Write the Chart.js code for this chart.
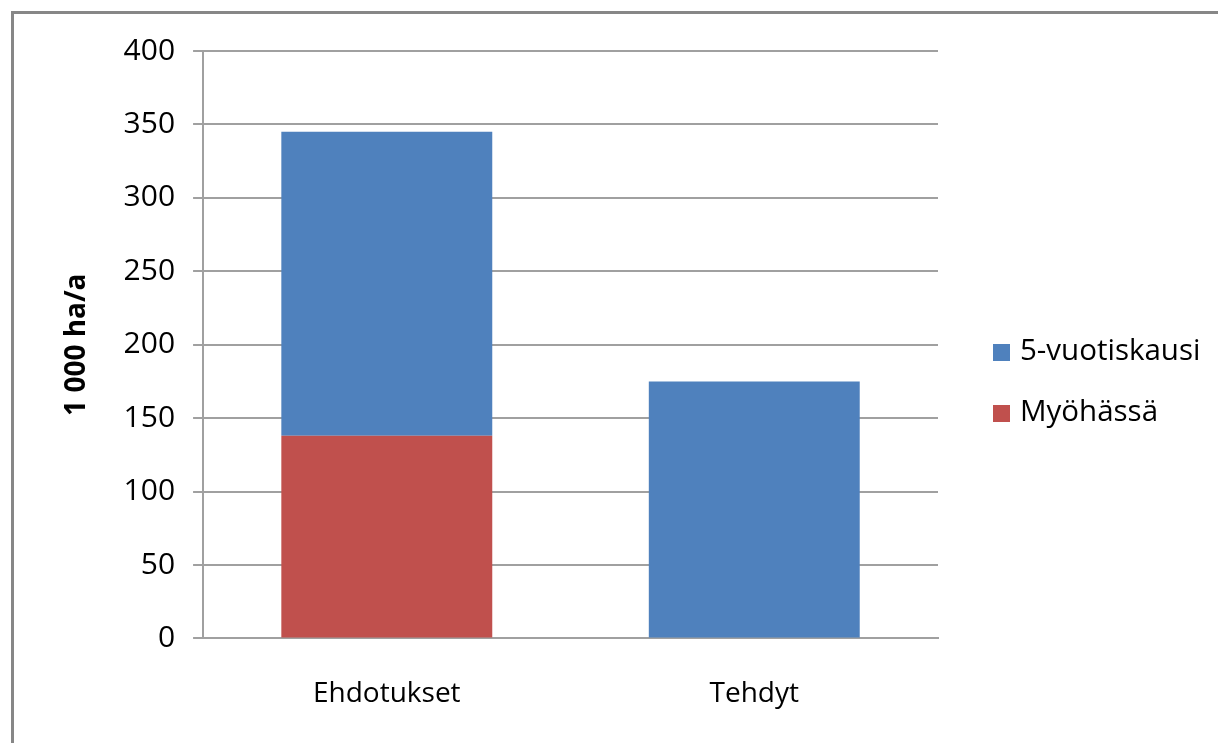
<!DOCTYPE html>
<html>
<head>
<meta charset="utf-8">
<script src="https://cdn.jsdelivr.net/npm/chart.js@4.4.1/dist/chart.umd.min.js"></script>
<style>
  body { margin: 0; background: #fff; overflow: hidden; }
  #wrap { position: relative; width: 1218px; height: 743px; overflow: hidden; }
  #frame { position: absolute; left: 11px; top: 11px; width: 1400px; height: 900px;
           border-top: 3px solid #878787; border-left: 3px solid #878787; box-sizing: border-box; }
  #myChart { position: absolute; left: 0; top: 0; }
  .legende { position: absolute; left: 993px; font-family: 'Open Sans', sans-serif; font-size: 29.5px; color: #000; }
  .legende div { position: absolute; white-space: nowrap; height: 34px; line-height: 34px; }
  .legende span { display: inline-block; width: 17px; height: 17px; margin-right: 10px; vertical-align: -1px; }
</style>
</head>
<body>
<div id="wrap">
  <div id="frame"></div>
  <canvas id="myChart" width="1218" height="742"></canvas>
  <div class="legende" id="legende"></div>
</div>
<script>
const categories = ['Ehdotukset', 'Tehdyt'];
const myohassa = [138, 0];
const viisiVuotis = [207, 175];
const tickLabels = [0, 50, 100, 150, 200, 250, 300, 350, 400];
const seriesNames = ['Myöhässä', '5-vuotiskausi'];
const colors = ['#C0504D', '#4F81BD'];

const ctx = document.getElementById('myChart');
const grille = '#a0a0a0';

const myChart = new Chart(ctx, {
  type: 'bar',
  data: {
    labels: categories,
    datasets: [{
      label: seriesNames[0],
      data: myohassa,
      backgroundColor: colors[0],
      borderWidth: 0,
      barPercentage: 0.574,
      categoryPercentage: 1
    }, {
      label: seriesNames[1],
      data: viisiVuotis,
      backgroundColor: colors[1],
      borderWidth: 0,
      barPercentage: 0.574,
      categoryPercentage: 1
    }]
  },
  options: {
    responsive: false,
    animation: false,
    layout: { padding: { left: 60, top: 51, right: 280, bottom: 0 } },
    plugins: { legend: { display: false }, tooltip: { enabled: false } },
    scales: {
      x: {
        stacked: true,
        grid: { display: false },
        border: { color: grille, width: 2 },
        ticks: { color: '#000', padding: 31, font: { family: 'Open Sans', size: 28 } }
      },
      y: {
        stacked: true,
        min: 0,
        max: 400,
        afterBuildTicks: axis => { axis.ticks = tickLabels.map(v => ({ value: v })); },
        grid: { color: grille, lineWidth: 2, tickLength: 10, drawTicks: true },
        border: { color: grille, width: 2 },
        ticks: { color: '#000', padding: 18, font: { family: 'Open Sans', size: 30 } },
        title: {
          display: true,
          text: '1 000 ha/a',
          color: '#000',
          font: { family: 'Open Sans', size: 28, weight: 'bold' },
          padding: { top: 0, bottom: 12 }
        }
      }
    }
  }
});

// légende à droite, dans l'ordre inverse des séries
const legende = document.getElementById('legende');
const ordre = [1, 0];
const posY = [332, 393];
ordre.forEach((i, k) => {
  legende.innerHTML += `<div style="top:${posY[k]}px"><span style="background:${colors[i]}"></span>${seriesNames[i]}</div>`;
});
</script>
</body>
</html>
